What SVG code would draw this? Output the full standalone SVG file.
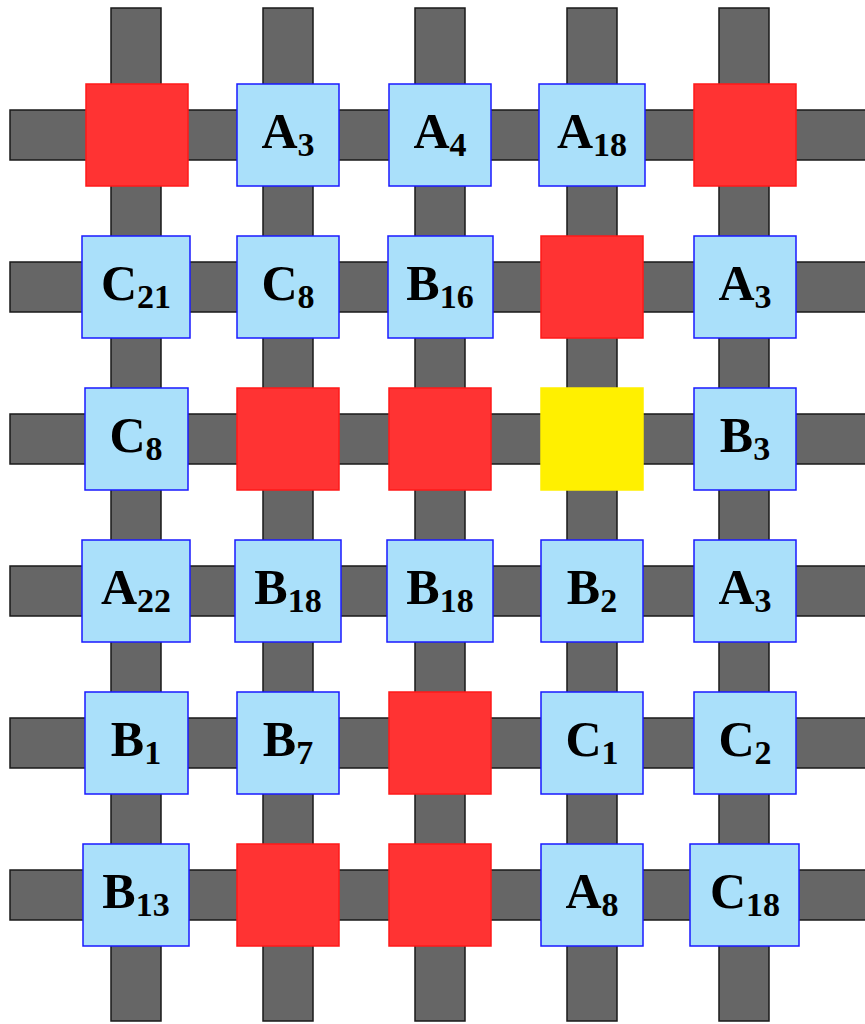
<svg xmlns="http://www.w3.org/2000/svg" width="865" height="1024" viewBox="0 0 865 1024">
<style>
.bar{fill:#666666;stroke:#1a1a1a;stroke-width:1.5}
.lbl{fill:#aae0fa;stroke:#1a1aff;stroke-width:1.5}
.red{fill:#ff3333;stroke:#ff1a1a;stroke-width:1.5}
.yel{fill:#fff000;stroke:#fff000;stroke-width:1.5}
text{font-family:"Liberation Serif","Times New Roman",serif;font-weight:bold;font-size:50px;fill:#000;text-anchor:middle}
.s{font-size:34px}
</style>
<g id="connectors">
<rect class="bar" x="111" y="8" width="50" height="1013"/>
<rect class="bar" x="263" y="8" width="50" height="1013"/>
<rect class="bar" x="415" y="8" width="50" height="1013"/>
<rect class="bar" x="567" y="8" width="50" height="1013"/>
<rect class="bar" x="719" y="8" width="50" height="1013"/>
<rect class="bar" x="10" y="110" width="870" height="50"/>
<rect class="bar" x="10" y="262" width="870" height="50"/>
<rect class="bar" x="10" y="414" width="870" height="50"/>
<rect class="bar" x="10" y="566" width="870" height="50"/>
<rect class="bar" x="10" y="718" width="870" height="50"/>
<rect class="bar" x="10" y="870" width="870" height="50"/>
</g>
<!-- row 0 -->
<g id="n00"><rect class="red" x="86" y="84" width="102" height="102"/></g>
<g id="n01"><rect class="lbl" x="237" y="84" width="102" height="102"/><text x="288" y="148">A<tspan class="s" dy="8">3</tspan></text></g>
<g id="n02"><rect class="lbl" x="389" y="84" width="102" height="102"/><text x="440" y="148">A<tspan class="s" dy="8">4</tspan></text></g>
<g id="n03"><rect class="lbl" x="539" y="84" width="106" height="102"/><text x="592" y="148">A<tspan class="s" dy="8">18</tspan></text></g>
<g id="n04"><rect class="red" x="694" y="84" width="102" height="102"/></g>
<!-- row 1 -->
<g id="n10"><rect class="lbl" x="82" y="236" width="108" height="102"/><text x="136" y="300">C<tspan class="s" dy="8">21</tspan></text></g>
<g id="n11"><rect class="lbl" x="237" y="236" width="102" height="102"/><text x="288" y="300">C<tspan class="s" dy="8">8</tspan></text></g>
<g id="n12"><rect class="lbl" x="388" y="236" width="105" height="102"/><text x="440" y="300">B<tspan class="s" dy="8">16</tspan></text></g>
<g id="n13"><rect class="red" x="541" y="236" width="102" height="102"/></g>
<g id="n14"><rect class="lbl" x="694" y="236" width="102" height="102"/><text x="745" y="300">A<tspan class="s" dy="8">3</tspan></text></g>
<!-- row 2 -->
<g id="n20"><rect class="lbl" x="85" y="388" width="103" height="102"/><text x="136" y="452">C<tspan class="s" dy="8">8</tspan></text></g>
<g id="n21"><rect class="red" x="237" y="388" width="102" height="102"/></g>
<g id="n22"><rect class="red" x="389" y="388" width="102" height="102"/></g>
<g id="n23"><rect class="yel" x="541" y="388" width="102" height="102"/></g>
<g id="n24"><rect class="lbl" x="694" y="388" width="102" height="102"/><text x="745" y="452">B<tspan class="s" dy="8">3</tspan></text></g>
<!-- row 3 -->
<g id="n30"><rect class="lbl" x="82" y="540" width="108" height="102"/><text x="136" y="604">A<tspan class="s" dy="8">22</tspan></text></g>
<g id="n31"><rect class="lbl" x="235" y="540" width="106" height="102"/><text x="288" y="604">B<tspan class="s" dy="8">18</tspan></text></g>
<g id="n32"><rect class="lbl" x="387" y="540" width="106" height="102"/><text x="440" y="604">B<tspan class="s" dy="8">18</tspan></text></g>
<g id="n33"><rect class="lbl" x="541" y="540" width="102" height="102"/><text x="592" y="604">B<tspan class="s" dy="8">2</tspan></text></g>
<g id="n34"><rect class="lbl" x="694" y="540" width="102" height="102"/><text x="745" y="604">A<tspan class="s" dy="8">3</tspan></text></g>
<!-- row 4 -->
<g id="n40"><rect class="lbl" x="85" y="692" width="103" height="102"/><text x="136" y="756">B<tspan class="s" dy="8">1</tspan></text></g>
<g id="n41"><rect class="lbl" x="237" y="692" width="102" height="102"/><text x="288" y="756">B<tspan class="s" dy="8">7</tspan></text></g>
<g id="n42"><rect class="red" x="389" y="692" width="102" height="102"/></g>
<g id="n43"><rect class="lbl" x="541" y="692" width="102" height="102"/><text x="592" y="756">C<tspan class="s" dy="8">1</tspan></text></g>
<g id="n44"><rect class="lbl" x="694" y="692" width="102" height="102"/><text x="745" y="756">C<tspan class="s" dy="8">2</tspan></text></g>
<!-- row 5 -->
<g id="n50"><rect class="lbl" x="83" y="844" width="106" height="102"/><text x="136" y="908">B<tspan class="s" dy="8">13</tspan></text></g>
<g id="n51"><rect class="red" x="237" y="844" width="102" height="102"/></g>
<g id="n52"><rect class="red" x="389" y="844" width="102" height="102"/></g>
<g id="n53"><rect class="lbl" x="541" y="844" width="102" height="102"/><text x="592" y="908">A<tspan class="s" dy="8">8</tspan></text></g>
<g id="n54"><rect class="lbl" x="690" y="844" width="109" height="102"/><text x="745" y="908">C<tspan class="s" dy="8">18</tspan></text></g>
</svg>
